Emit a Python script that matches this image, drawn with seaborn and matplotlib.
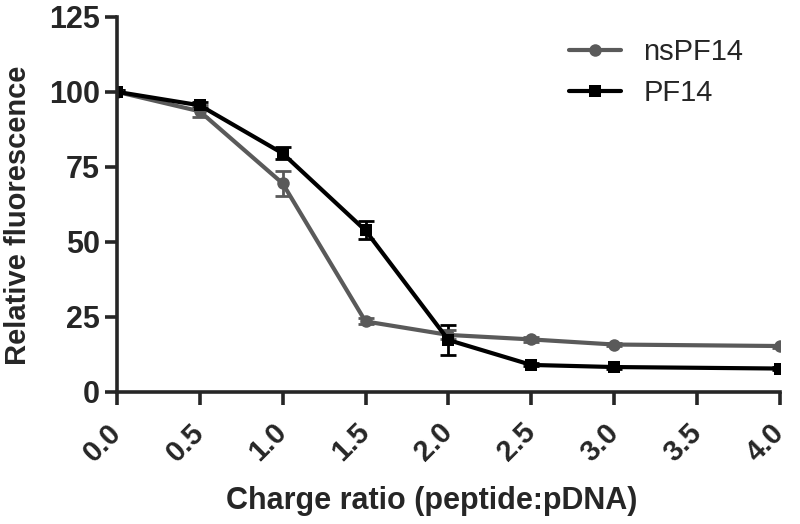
import numpy as np
import pandas as pd
import seaborn as sns
import matplotlib.pyplot as plt

# charge ratio (peptide:pDNA)
ratio = [0.0, 0.5, 1.0, 1.5, 2.0, 2.5, 3.0, 4.0]
nspf14 = [100, 93.5, 69.5, 23.5, 19, 17.5, 15.8, 15.3]
nspf14_err = [0.5, 2, 4.2, 1, 1.5, 0.8, 0.5, 0.5]
pf14 = [100, 95.5, 79.5, 53.8, 17.3, 9, 8.3, 7.8]
pf14_err = [0.5, 1, 2, 3, 5, 0.5, 0.5, 0.5]
xticks = [0.0, 0.5, 1.0, 1.5, 2.0, 2.5, 3.0, 3.5, 4.0]
yticks = [0, 25, 50, 75, 100, 125]

df = pd.DataFrame({
    "ratio": ratio * 2,
    "value": nspf14 + pf14,
    "peptide": ["nsPF14"] * len(ratio) + ["PF14"] * len(ratio),
})

sns.set_style("ticks")
plt.rcParams['font.family'] = ['Liberation Sans', 'DejaVu Sans']

fig, ax = plt.subplots(figsize=(8, 5.24), dpi=100)
fig.subplots_adjust(left=0.146, right=0.975, bottom=0.252, top=0.968)

pal = {"nsPF14": "#5a5a5a", "PF14": "#000000"}
sns.lineplot(data=df, x="ratio", y="value", hue="peptide", style="peptide",
             markers={"nsPF14": "o", "PF14": "s"}, dashes=False,
             palette=pal, linewidth=3, markersize=9, markeredgewidth=0, ax=ax)

ax.errorbar(ratio, nspf14, yerr=nspf14_err, fmt="none", ecolor=pal["nsPF14"],
            elinewidth=2, capsize=6, capthick=2, zorder=1)
ax.errorbar(ratio, pf14, yerr=pf14_err, fmt="none", ecolor=pal["PF14"],
            elinewidth=2, capsize=6, capthick=2, zorder=1)

ax.set_xlim(0, 4)
ax.set_ylim(0, 125)
ax.set_xticks(xticks)
ax.set_xticklabels([f"{v:.1f}" for v in xticks])
ax.set_yticks(yticks)

for s in ["top", "right"]:
    ax.spines[s].set_visible(False)
for s in ["left", "bottom"]:
    ax.spines[s].set_linewidth(2.6)
    ax.spines[s].set_clip_on(False)
ax.tick_params(width=2.6, length=9, labelsize=21)
ax.tick_params(axis="y", pad=3, labelsize=22)
ax.tick_params(axis="x", pad=17)
for lab in ax.get_xticklabels() + ax.get_yticklabels():
    lab.set_fontweight("bold")
for lab in ax.get_xticklabels():
    lab.set_rotation(45)
    lab.set_ha("right")
    lab.set_va("center")
    lab.set_rotation_mode("anchor")

ax.set_xlabel("Charge ratio (peptide:pDNA)", fontsize=22, fontweight="bold")
ax.xaxis.set_label_coords(0.475, -0.25)
ax.set_ylabel("Relative fluorescence", fontsize=21, fontweight="bold")
ax.yaxis.set_label_coords(-0.128, 0.472)

leg = ax.legend(loc="upper left", frameon=False, fontsize=21, handlelength=1.8,
                handletextpad=0.75, labelspacing=0.45, borderaxespad=0,
                bbox_to_anchor=(0.664, 0.975))
leg.set_title(None)

fig.savefig("out.png", dpi=100)
